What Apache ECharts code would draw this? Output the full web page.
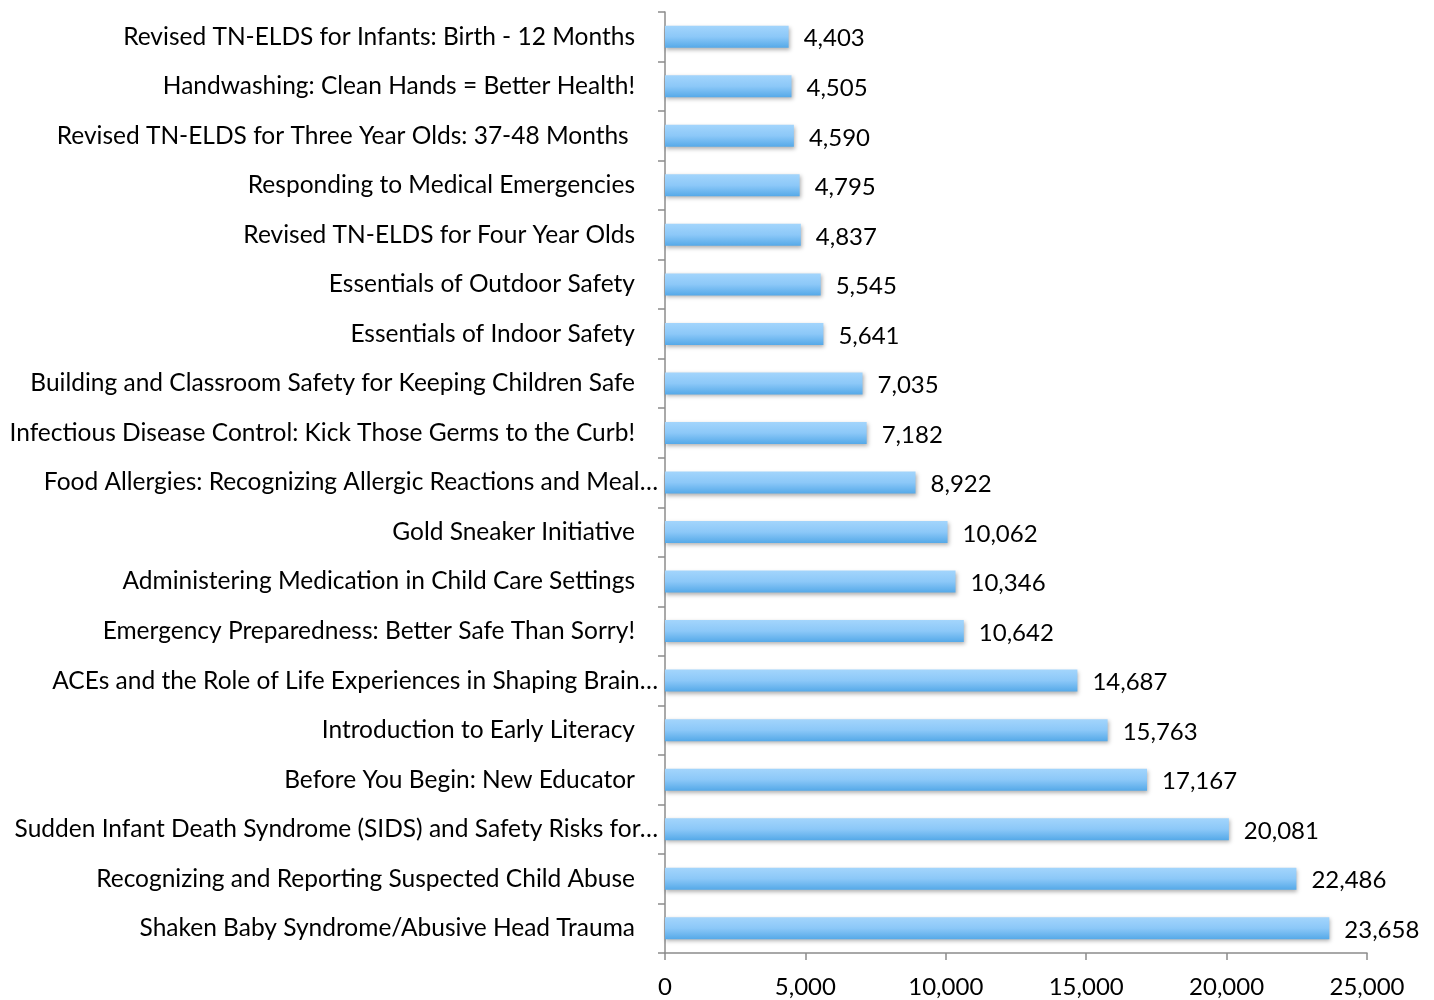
<!DOCTYPE html>
<html><head><meta charset="utf-8">
<script src="https://cdn.jsdelivr.net/npm/echarts@6/dist/echarts.min.js"></script>
<style>html,body{margin:0;padding:0;background:#fff}#c{width:1434px;height:1000px}</style>
</head><body><div id="c"></div>
<script>
const categories = [
  "Revised TN-ELDS for Infants: Birth - 12 Months",
  "Handwashing: Clean Hands = Better Health!",
  "Revised TN-ELDS for Three Year Olds: 37-48 Months ",
  "Responding to Medical Emergencies",
  "Revised TN-ELDS for Four Year Olds",
  "Essentials of Outdoor Safety",
  "Essentials of Indoor Safety",
  "Building and Classroom Safety for Keeping Children Safe",
  "Infectious Disease Control: Kick Those Germs to the Curb!",
  "Food Allergies: Recognizing Allergic Reactions and Meal…",
  "Gold Sneaker Initiative",
  "Administering Medication in Child Care Settings",
  "Emergency Preparedness: Better Safe Than Sorry!",
  "ACEs and the Role of Life Experiences in Shaping Brain…",
  "Introduction to Early Literacy",
  "Before You Begin: New Educator",
  "Sudden Infant Death Syndrome (SIDS) and Safety Risks for…",
  "Recognizing and Reporting Suspected Child Abuse",
  "Shaken Baby Syndrome/Abusive Head Trauma"
];
const values = [4403,4505,4590,4795,4837,5545,5641,7035,7182,8922,10062,10346,10642,14687,15763,17167,20081,22486,23658];
const xTicks = [0,5000,10000,15000,20000,25000];

const font = "Lato, 'Open Sans', sans-serif";
const chart = echarts.init(document.getElementById('c'));
const catData = categories.map(c => c.endsWith('…')
  ? {value:c, textStyle:{padding:[0,-23,0,0]}} : c);
chart.setOption({
  animation:false,
  grid:{left:665,right:67,top:12,bottom:47,containLabel:false},
  xAxis:{type:'value',min:xTicks[0],max:xTicks[xTicks.length-1],interval:5000,
    axisLine:{show:true,lineStyle:{color:'#8c8c8c',width:1.5}},
    axisTick:{show:true,length:7,lineStyle:{color:'#8c8c8c',width:1.5}},
    splitLine:{show:false},
    axisLabel:{color:'#000',fontSize:24,fontFamily:font,margin:22,
      formatter:v=>v.toLocaleString('en-US')}},
  yAxis:{type:'category',data:catData,inverse:true,
    axisLine:{show:true,lineStyle:{color:'#8c8c8c',width:1.5}},
    axisTick:{show:true,length:7,lineStyle:{color:'#8c8c8c',width:1.5}},
    axisLabel:{color:'#000',fontSize:24.5,fontFamily:font,margin:30}},
  series:[{type:'bar',data:values,barWidth:22,
    itemStyle:{color:new echarts.graphic.LinearGradient(0,0,0,1,[
      {offset:0,color:'#a3d5fc'},{offset:0.5,color:'#8cc8f8'},{offset:1,color:'#55a9e8'}]),
      shadowColor:'rgba(0,0,0,0.3)',shadowBlur:4,shadowOffsetX:1,shadowOffsetY:2},
    label:{show:true,position:'right',distance:15,color:'#000',fontSize:24,fontFamily:font,
      offset:[0,2],
      formatter:p=>p.value.toLocaleString('en-US')}}]
});
</script></body></html>
